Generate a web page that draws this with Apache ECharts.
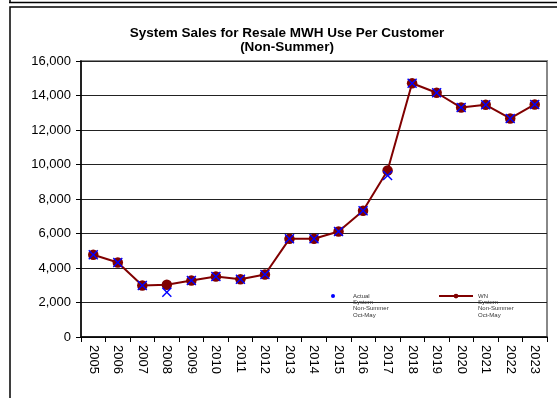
<!DOCTYPE html>
<html>
<head>
<meta charset="utf-8">
<script src="https://cdn.jsdelivr.net/npm/echarts@6/dist/echarts.min.js"></script>
<style>
html,body{margin:0;padding:0;background:#fff;}
#c{width:557px;height:398px;}
</style>
</head>
<body>
<div id="c"></div>
<script>
var years = ['2005','2006','2007','2008','2009','2010','2011','2012','2013','2014','2015','2016','2017','2018','2019','2020','2021','2022','2023'];
var wnValues = [4770, 4320, 2990, 3030, 3270, 3510, 3350, 3620, 5690, 5700, 6120, 7320, 9650, 14710, 14160, 13300, 13460, 12670, 13480];
var actualValues = [4770, 4320, 2990, 2600, 3270, 3510, 3350, 3620, 5690, 5700, 6120, 7320, 9360, 14710, 14160, 13300, 13460, 12670, 13480];
var actualName = 'Actual\nSystem\nNon-Summer\nOct-May';
var wnName = 'WN\nSystem\nNon-Summer\nOct-May';

var xPath = 'path://M0,1 L1,0 L5,4 L9,0 L10,1 L6,5 L10,9 L9,10 L5,6 L1,10 L0,9 L4,5 Z';
var chart = echarts.init(document.getElementById('c'), null, {renderer:'canvas'});
var legendText = {fontFamily:'Liberation Sans, Arial, sans-serif', fontSize:6, lineHeight:6.3, color:'#333'};
function shiftName(n){ return '\n\n\n' + n; }
chart.setOption({
  animation:false,
  textStyle:{fontFamily:'Liberation Sans, Arial, sans-serif'},
  title:{
    text:'System Sales for Resale MWH Use Per Customer\n(Non-Summer)',
    left:282, top:22, textAlign:'center',
    textStyle:{fontSize:13.5, fontWeight:'bold', color:'#000', lineHeight:13.5, fontFamily:'Liberation Sans, Arial, sans-serif'}
  },
  graphic:[
    {type:'line', shape:{x1:9,y1:2.5,x2:560,y2:2.5}, style:{stroke:'#000', lineWidth:1.5}, silent:true},
    {type:'line', shape:{x1:10,y1:0,x2:10,y2:2.5}, style:{stroke:'#000', lineWidth:1.5}, silent:true},
    {type:'rect', shape:{x:10,y:7,width:600,height:500}, style:{stroke:'#000', fill:null, lineWidth:1.5}, silent:true, z:-10}
  ],
  legend:[
    {data:[{name:actualName, icon:'circle'}], left:331, top:274, padding:0, itemWidth:4, itemHeight:4,
     formatter:shiftName,
     textStyle:Object.assign({}, legendText, {padding:[0,0,0,13]}), selectedMode:false},
    {data:[{name:wnName}], left:438, top:274, padding:0, itemWidth:34, itemHeight:6,
     formatter:shiftName,
     textStyle:legendText, selectedMode:false}
  ],
  grid:{left:81, right:10, top:61, bottom:61, show:true, borderColor:'#888', borderWidth:2, backgroundColor:'#fff'},
  xAxis:{
    type:'category', data:years, boundaryGap:true,
    axisLine:{lineStyle:{color:'#000', width:1.5}},
    axisTick:{show:true, length:5, lineStyle:{color:'#000'}},
    axisLabel:{rotate:-90, fontSize:13, color:'#000', margin:8, interval:0}
  },
  yAxis:{
    type:'value', min:0, max:16000, interval:2000,
    axisLine:{show:true, lineStyle:{color:'#000', width:1.5}},
    axisTick:{show:true, length:5, lineStyle:{color:'#000'}},
    axisLabel:{fontSize:13, color:'#000', margin:10, formatter:function(v){return v.toLocaleString('en-US');}},
    splitLine:{show:true, lineStyle:{color:'#222', width:1}}
  },
  series:[
    {name:wnName, type:'line', data:wnValues, symbol:'circle', symbolSize:10.5,
     lineStyle:{color:'#800000', width:2}, itemStyle:{color:'#800000'}, z:3},
    {name:actualName, type:'line', data:actualValues, symbol:xPath, symbolSize:10,
     lineStyle:{opacity:0, width:0}, itemStyle:{color:'#0000ff'}, z:4}
  ]
});
</script>
</body>
</html>
